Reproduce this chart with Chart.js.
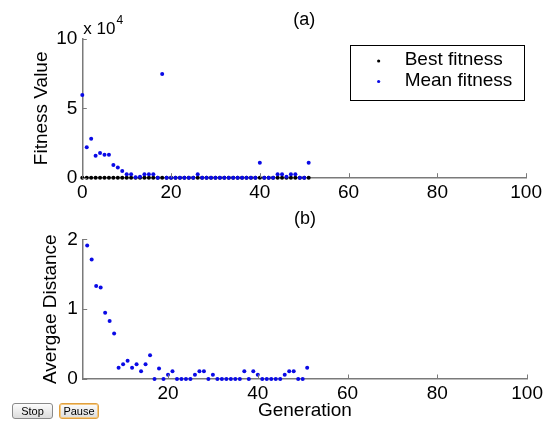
<!DOCTYPE html>
<html>
<head>
<meta charset="utf-8">
<title>GA progress</title>
<script src="https://cdn.jsdelivr.net/npm/chart.js@4.4.1/dist/chart.umd.min.js"></script>
<style>
  html, body { margin: 0; padding: 0; background: #fff; }
  #wrap { position: relative; width: 546px; height: 423px; overflow: hidden; }
  #fitness { position: absolute; left: 0; top: 0; }
  #distance { position: absolute; left: 0; top: 205px; }
  .btn {
    position: absolute; top: 403px; height: 16px; box-sizing: border-box;
    font: 11px "Liberation Sans", Arial, sans-serif; color: #000;
    background: linear-gradient(#fdfdfd, #dcdcdc); border: 1px solid #8a8a8a;
    border-radius: 3px; padding: 0; line-height: 14px; text-align: center;
  }
  #stop { left: 12px; width: 41px; }
  #pause { left: 59px; width: 40px; border-color: #e0a040; box-shadow: inset 0 0 0 1px #f4c880; }
</style>
</head>
<body>
<div id="wrap">
  <canvas id="fitness" width="546" height="205"></canvas>
  <canvas id="distance" width="546" height="218"></canvas>
  <button class="btn" id="stop">Stop</button>
  <button class="btn" id="pause">Pause</button>
</div>
<script>
// panel (a): fitness per generation
const generations = [0, 1, 2, 3, 4, 5, 6, 7, 8, 9, 10, 11, 12, 13, 14, 15, 16, 17, 18, 19, 20, 21, 22, 23, 24, 25,
  26, 27, 28, 29, 30, 31, 32, 33, 34, 35, 36, 37, 38, 39, 40, 41, 42, 43, 44, 45, 46, 47, 48, 49, 50, 51];
const bestFitness = [0, 0, 0, 0, 0, 0, 0, 0, 0, 0, 0, 0, 0, 0, 0, 0, 0, 0, 0, 0, 0, 0, 0, 0, 0, 0,
  0, 0, 0, 0, 0, 0, 0, 0, 0, 0, 0, 0, 0, 0, 0, 0, 0, 0, 0, 0, 0, 0, 0, 0, 0, 0];
const meanFitness = [59600, 21900, 28000, 15900, 17800, 16500, 16500, 9200, 7300, 4800, 2400, 2400, 400, 700,
  2400, 2400, 2400, 0, 74800, 0, 0, 0, 0, 0, 0, 0, 2400, 0, 0, 0, 0, 0, 0, 0, 0, 0, 0, 0, 0, 0,
  10800, 0, 0, 0, 2400, 2400, 700, 2400, 2400, 0, 0, 10800];
const fitnessXTicks = [0, 20, 40, 60, 80, 100];
const fitnessYTicks = [0, 50000, 100000];

// panel (b): average distance between individuals
const distGenerations = [2, 3, 4, 5, 6, 7, 8, 9, 10, 11, 12, 13, 14, 15, 16, 17, 18, 19, 20, 21, 22, 23, 24, 25, 26,
  27, 28, 29, 30, 31, 32, 33, 34, 35, 36, 37, 38, 39, 40, 41, 42, 43, 44, 45, 46, 47, 48, 49, 50, 51];
const avgDistance = [1.91, 1.71, 1.33, 1.31, 0.95, 0.83, 0.65, 0.16, 0.21, 0.26, 0.16, 0.21, 0.11, 0.21, 0.34,
  0, 0.15, 0, 0.06, 0.11, 0, 0, 0, 0, 0.06, 0.11, 0.11, 0, 0.06, 0, 0, 0, 0, 0, 0, 0.11, 0, 0.11, 0.06,
  0, 0, 0, 0, 0, 0.06, 0.11, 0.11, 0, 0, 0.16];
const distXTicks = [20, 40, 60, 80, 100];
const distYTicks = [0, 1, 2];

const FONT = '"Liberation Sans", Arial, sans-serif';
const AXIS = '#7a7a7a';
const BLUE = '#0a0ae6';
const font19 = { family: FONT, size: 19 };

const toPoints = (xs, ys) => xs.map((x, i) => ({ x, y: ys[i] }));

// MATLAB-like ticks pointing into the plot
const inwardTicks = {
  id: 'inwardTicks',
  afterDraw(chart) {
    const { ctx, chartArea: a, scales: { x, y } } = chart;
    ctx.save();
    ctx.strokeStyle = AXIS;
    ctx.lineWidth = 1;
    x.ticks.forEach(t => {
      const px = Math.round(x.getPixelForValue(t.value)) + 0.5;
      ctx.beginPath(); ctx.moveTo(px, a.bottom); ctx.lineTo(px, a.bottom - 4.5); ctx.stroke();
    });
    y.ticks.forEach(t => {
      const py = Math.round(y.getPixelForValue(t.value)) + 0.5;
      ctx.beginPath(); ctx.moveTo(a.left, py); ctx.lineTo(a.left + 4.5, py); ctx.stroke();
    });
    ctx.restore();
  }
};

// "x 10^4" multiplier above the y axis
const exponentLabel = {
  id: 'exponentLabel',
  afterDraw(chart, args, opts) {
    if (!opts.power) return;
    const { ctx, chartArea: a } = chart;
    ctx.save();
    ctx.fillStyle = '#000';
    ctx.textBaseline = 'alphabetic';
    ctx.font = '17px ' + FONT;
    const base = 'x 10';
    ctx.fillText(base, a.left + 1, a.top - 5.5);
    const w = ctx.measureText(base).width;
    ctx.font = '12px ' + FONT;
    ctx.fillText(String(opts.power), a.left + 1 + w + 1, a.top - 15);
    ctx.restore();
  }
};

// framed legend in the upper right corner
const boxedLegend = {
  id: 'boxedLegend',
  afterDraw(chart, args, opts) {
    if (!opts.show) return;
    const { ctx, chartArea: a } = chart;
    const w = 174, h = 55;
    const left = a.right - 2.5 - w, top = a.top + 6;
    ctx.save();
    ctx.fillStyle = '#fff';
    ctx.fillRect(left, top, w, h);
    ctx.strokeStyle = '#000';
    ctx.lineWidth = 1;
    ctx.strokeRect(Math.round(left) + 0.5, Math.round(top) + 0.5, w, h);
    ctx.font = '19px ' + FONT;
    ctx.textBaseline = 'middle';
    chart.data.datasets.forEach((ds, i) => {
      const rowY = top + 15 + i * 20.5;
      ctx.fillStyle = ds.backgroundColor;
      ctx.beginPath(); ctx.arc(left + 29, rowY + 1, 1.6, 0, Math.PI * 2); ctx.fill();
      ctx.fillStyle = '#000';
      ctx.fillText(ds.label, left + 55, rowY);
    });
    ctx.restore();
  }
};

function axes(opts) {
  return {
    x: {
      type: 'linear',
      min: opts.xMin, max: 100,
      afterBuildTicks: s => { s.ticks = opts.xTicks.map(v => ({ value: v })); },
      afterFit: s => { s.height = opts.xHeight; },
      grid: { display: false, drawTicks: false },
      border: { color: AXIS, width: 1.5 },
      ticks: { font: font19, color: '#000', padding: opts.xPad, maxRotation: 0, autoSkip: false },
      title: opts.xTitle
        ? { display: true, text: opts.xTitle, font: font19, color: '#000', padding: { top: 0, bottom: 0.5 } }
        : { display: false }
    },
    y: {
      min: 0, max: opts.yMax,
      afterBuildTicks: s => { s.ticks = opts.yTicks.map(v => ({ value: v })); },
      afterFit: s => { s.width = opts.yWidth; },
      grid: { display: false, drawTicks: false },
      border: { color: AXIS, width: 1.5 },
      ticks: { font: font19, color: '#000', padding: 5, callback: opts.yFormat },
      title: { display: true, text: opts.yTitle, font: font19, color: '#000', padding: { top: opts.yTitlePad, bottom: 0 } }
    }
  };
}

function panelTitle(text, padTop, padBottom) {
  return {
    display: true, text, fullSize: false, color: '#000',
    font: { family: FONT, size: 18, weight: 'normal' },
    padding: { top: padTop, bottom: padBottom }
  };
}

new Chart(document.getElementById('fitness'), {
  type: 'scatter',
  data: {
    datasets: [
      { label: 'Best fitness', data: toPoints(generations, bestFitness), backgroundColor: '#000',
        pointRadius: 2, pointBorderWidth: 0, pointHoverRadius: 2, order: 1, clip: false },
      { label: 'Mean fitness', data: toPoints(generations, meanFitness), backgroundColor: BLUE,
        pointRadius: 2, pointBorderWidth: 0, pointHoverRadius: 2, order: 0, clip: false }
    ]
  },
  options: {
    responsive: false, animation: false, devicePixelRatio: 1,
    layout: { padding: { left: 0, right: 16.7, top: 0, bottom: 0 } },
    scales: axes({
      xMin: 0, xTicks: fitnessXTicks, xHeight: 27.3, xPad: 4,
      yMax: 100000, yTicks: fitnessYTicks, yWidth: 82.3, yFormat: v => v / 10000,
      yTitle: 'Fitness Value', yTitlePad: 30
    }),
    plugins: {
      legend: { display: false },
      tooltip: { enabled: false },
      title: panelTitle('(a)', 9, 8.4),
      exponentLabel: { power: 4 },
      boxedLegend: { show: true }
    }
  },
  plugins: [inwardTicks, exponentLabel, boxedLegend]
});

new Chart(document.getElementById('distance'), {
  type: 'scatter',
  data: {
    datasets: [
      { label: 'Average distance', data: toPoints(distGenerations, avgDistance), backgroundColor: BLUE,
        pointRadius: 2, pointBorderWidth: 0, pointHoverRadius: 2, clip: false }
    ]
  },
  options: {
    responsive: false, animation: false, devicePixelRatio: 1,
    layout: { padding: { left: 0, right: 16.7, top: 0, bottom: 0 } },
    scales: axes({
      xMin: 1, xTicks: distXTicks, xHeight: 44, xPad: 3, xTitle: 'Generation',
      yMax: 2, yTicks: distYTicks, yWidth: 82.7, yFormat: v => v,
      yTitle: 'Avergae Distance', yTitlePad: 39
    }),
    plugins: {
      legend: { display: false },
      tooltip: { enabled: false },
      title: panelTitle('(b)', 2.9, 9.8),
      exponentLabel: { power: 0 },
      boxedLegend: { show: false }
    }
  },
  plugins: [inwardTicks, exponentLabel, boxedLegend]
});
</script>
</body>
</html>
